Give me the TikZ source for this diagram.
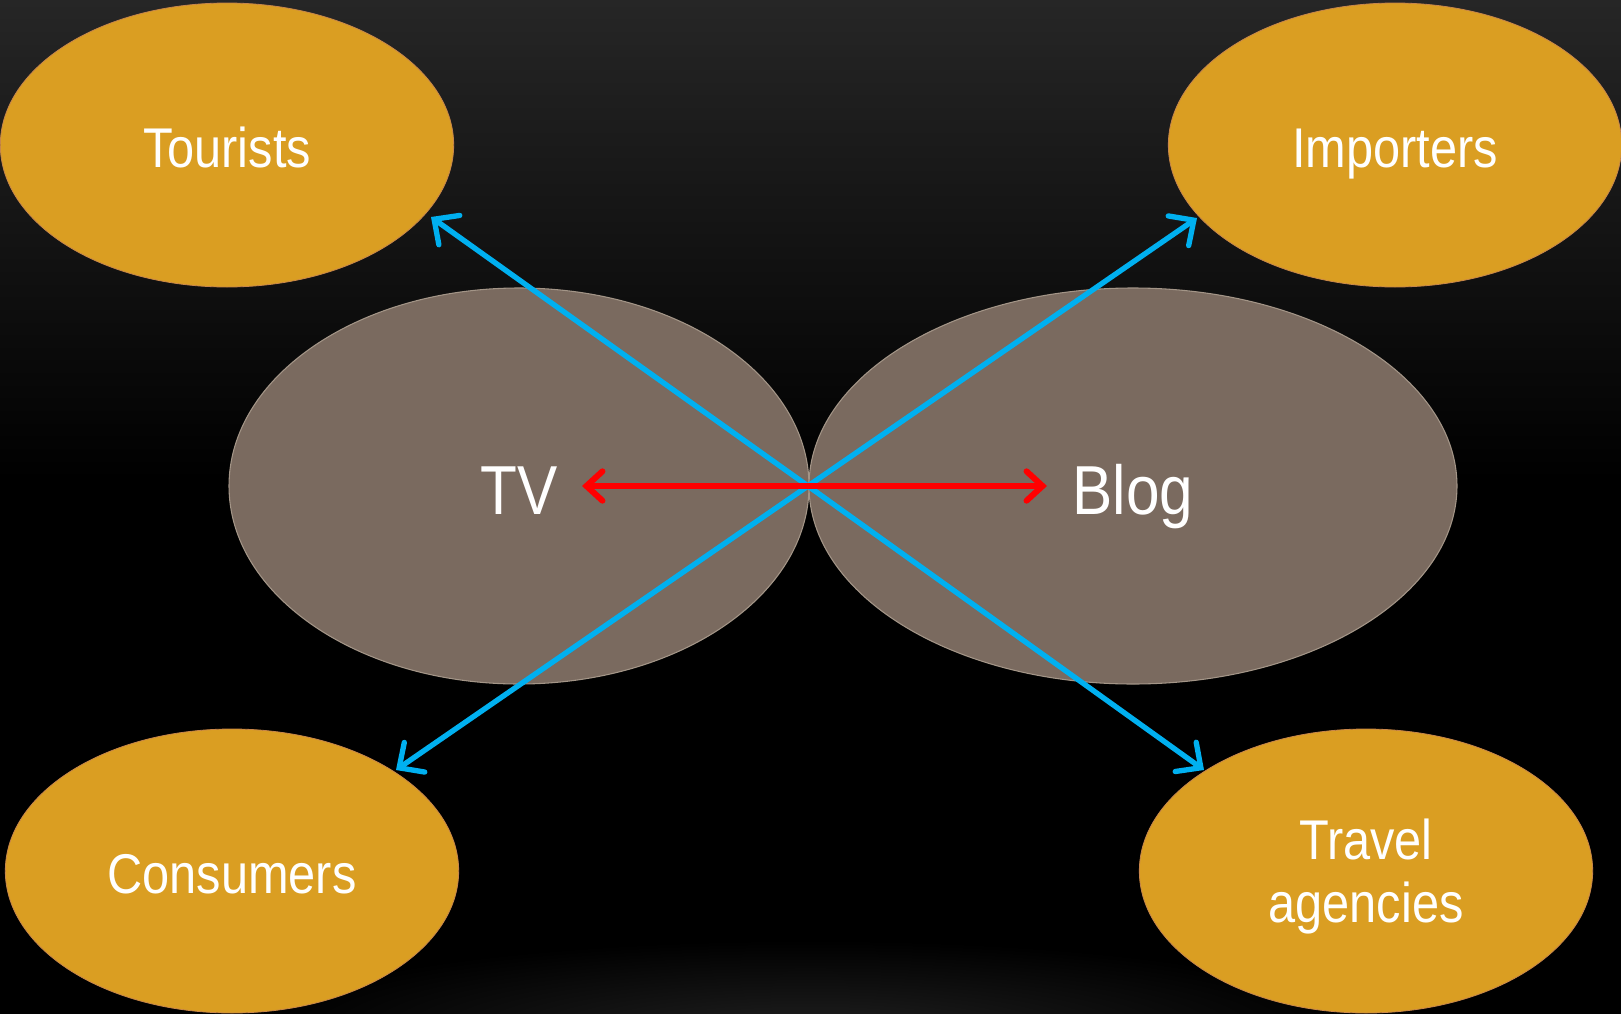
\documentclass[tikz,border=0pt]{standalone}
\usepackage{fontspec}
\setmainfont{Liberation Sans}[FakeStretch=0.87]
\usetikzlibrary{shapes.geometric,arrows.meta}
\definecolor{gold}{HTML}{DA9E22}
\definecolor{goldedge}{HTML}{C8864A}
\definecolor{mediafill}{HTML}{7A6A5F}
\definecolor{mediaedge}{HTML}{A39587}
\definecolor{linkblue}{HTML}{00B0F0}
\definecolor{bgtop}{HTML}{262626}
\tikzset{
  audience/.style={ellipse, fill=gold, draw=goldedge, line width=0.6pt,
    minimum width=340pt, minimum height=213pt, inner sep=0pt,
    text=white, font=\fontsize{42}{47}\selectfont, align=center},
  label/.style={draw=none, fill=none, minimum width=0pt, minimum height=0pt},
  oneline/.style={text height=30pt, text depth=0pt},
  media/.style={ellipse, fill=mediafill, draw=mediaedge, line width=0.8pt,
    minimum height=297pt, inner sep=0pt, text=white,
    font=\fontsize{52}{60}\selectfont, text height=37.5pt, text depth=0pt},
  bluelink/.style={draw=linkblue, line width=4pt,
    -{Straight Barb[length=14pt,width=27pt,line cap=round]}},
  redlink/.style={draw=red, line width=4.5pt,
    {Straight Barb[length=12pt,width=22pt,line cap=round]}-{Straight Barb[length=12pt,width=22pt,line cap=round]}}
}
\begin{document}
\begin{tikzpicture}[x=0.75pt,y=-0.75pt]
\useasboundingbox (0,0) rectangle (1621,1014);
% background
\fill[black] (0,0) rectangle (1621,1014);
\shade[top color=bgtop, bottom color=black] (0,0) rectangle (1621,480);
\begin{scope}
\clip (0,0) rectangle (1621,1014);
\shade[inner color=black!88!white, outer color=black] (810,1030) ellipse [x radius=560, y radius=90];
\end{scope}
% media ellipses
\node[media, minimum width=435pt] (tv) at (519,486) {};
\node[media, minimum width=486pt] (blog) at (1133,486) {};
\node[media, label] (tvtext) at (519,489) {TV};
\node[media, label] (blogtext) at (1133,489) {Blog};
% hub and arrow tips
\coordinate (hub) at (808,486);
\coordinate (tvtip) at (582,486);
\coordinate (blogtip) at (1047,486);
\coordinate (tourtip) at (431,217);
\coordinate (imptip) at (1197,218);
\coordinate (constip) at (396,770);
\coordinate (traveltip) at (1204,770);
% audience ellipses
\node[audience] (tourists) at (227,145) {};
\node[audience] (importers) at (1395,145) {};
\node[audience] (consumers) at (232,871) {};
\node[audience] (travel) at (1366,871) {};
\node[audience, oneline, label] (tourtext) at (227,147) {Tourists};
\node[audience, oneline, label] (imptext) at (1395,147) {Importers};
\node[audience, oneline, label] (constext) at (232,873) {Consumers};
\node[audience, label, anchor=base] (traveltext) at (1366,922) {Travel\\agencies};
% connectors
\draw[bluelink] (hub) -- (tourtip);
\draw[bluelink] (hub) -- (imptip);
\draw[bluelink] (hub) -- (constip);
\draw[bluelink] (hub) -- (traveltip);
\draw[redlink] (tvtip) -- (blogtip);
\end{tikzpicture}
\end{document}
